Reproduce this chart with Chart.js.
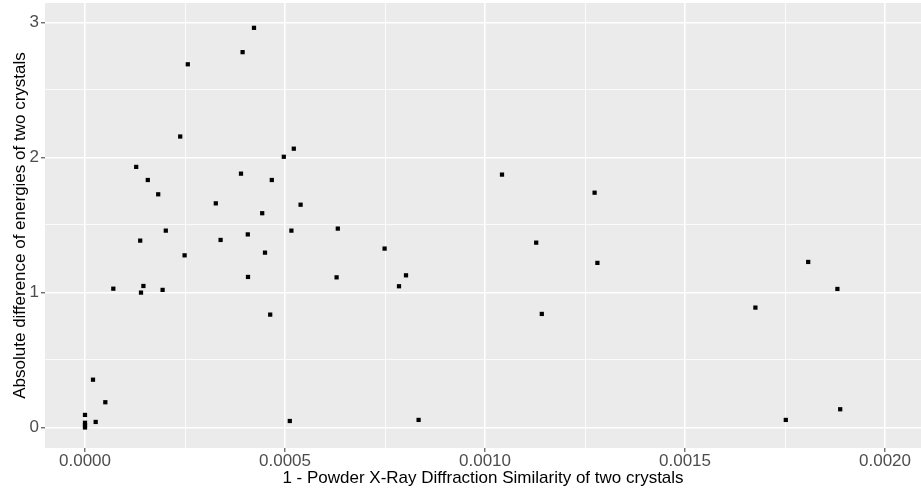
<!DOCTYPE html>
<html lang="en">
<head>
  <meta charset="UTF-8">
  <title>PXRD similarity vs energy difference</title>
  <style>
    body {
      margin: 0;
      padding: 0;
      background: white;
    }

    .chart-box {
      width: 921px;
      height: 494px;
    }
  </style>
</head>
<body>
  <div class="chart-box">
    <canvas id="scatterChart"></canvas>
  </div>

  <script src="https://cdn.jsdelivr.net/npm/chart.js"></script>
  <script>
    // 1 - PXRD similarity (x) and absolute energy difference (y)
    const xValues = [
      0.0004225, 0.000394, 0.000257, 0.000238, 0.000522, 0.000497, 0.000128, 0.00039,
      0.000157, 0.000467, 0.000183, 0.000327, 0.000539, 0.000443, 0.000202, 0.000516,
      0.000407, 0.000138, 0.000339, 0.000249, 0.00045, 0.0004075, 0.0000708, 0.000146,
      0.00014, 0.000194, 0.000463, 0.00002, 0.0000508, 0, 0.0000267, 0,
      0, 0, 0.000512, 0.0010425, 0.001274, 0.000632, 0.001128, 0.000749,
      0.001281, 0.000629, 0.0008025, 0.000785, 0.001142, 0.000834, 0.001808, 0.001881,
      0.001676, 0.001888, 0.001752
    ];
    const yValues = [
      2.96, 2.78, 2.69, 2.155, 2.065, 2.005, 1.93, 1.88,
      1.833, 1.833, 1.727, 1.66, 1.65, 1.587, 1.458, 1.458,
      1.43, 1.384, 1.389, 1.275, 1.295, 1.115, 1.028, 1.048,
      0.999, 1.019, 0.836, 0.354, 0.187, 0.093, 0.041, 0.035,
      0.015, 0, 0.048, 1.873, 1.739, 1.473, 1.369, 1.325,
      1.219, 1.112, 1.127, 1.046, 0.841, 0.056, 1.226, 1.026,
      0.888, 0.135, 0.056
    ];

    // axis breaks (major get labels, minor only grid)
    const xMajor = [0, 0.0005, 0.001, 0.0015, 0.002];
    const xMinor = [0.00025, 0.00075, 0.00125, 0.00175];
    const yMajor = [0, 1, 2, 3];
    const yMinor = [0.5, 1.5, 2.5];

    const points = xValues.map((x, i) => ({ x: x, y: yValues[i] }));

    const isMajor = (list, v) => list.some(m => Math.abs(m - v) < 1e-9);

    // grey panel like ggplot
    const panelBg = {
      id: 'panelBg',
      beforeDraw(chart) {
        const a = chart.chartArea;
        chart.ctx.save();
        chart.ctx.fillStyle = '#EBEBEB';
        chart.ctx.fillRect(a.left, a.top, a.right - a.left, a.bottom - a.top);
        chart.ctx.restore();
      }
    };

    const tickFont = { family: 'Liberation Sans, Arial, sans-serif', size: 17 };
    const titleFont = { family: 'Liberation Sans, Arial, sans-serif', size: 17 };

    new Chart(document.getElementById('scatterChart'), {
      type: 'scatter',
      data: {
        datasets: [{
          data: points,
          pointStyle: 'rect',
          pointRadius: 3,
          pointBorderWidth: 0,
          backgroundColor: '#000000',
          borderColor: '#000000'
        }]
      },
      options: {
        responsive: true,
        maintainAspectRatio: false,
        animation: false,
        events: [],
        layout: { autoPadding: false, padding: { top: 3, right: 0, bottom: 0, left: 0 } },
        plugins: {
          legend: { display: false },
          tooltip: { enabled: false }
        },
        scales: {
          x: {
            type: 'linear',
            min: -0.0001,
            max: 0.00209,
            afterBuildTicks: s => { s.ticks = xMajor.concat(xMinor).sort((a, b) => a - b).map(v => ({ value: v })); },
            afterFit: s => { s.height = 46; s.paddingLeft = 0; s.paddingRight = 0; },
            border: { display: false },
            grid: {
              color: '#FFFFFF',
              lineWidth: c => isMajor(xMajor, c.tick.value) ? 1.6 : 0.8,
              tickColor: c => isMajor(xMajor, c.tick.value) ? '#333333' : 'rgba(0,0,0,0)',
              tickLength: 4,
              tickWidth: 1
            },
            ticks: {
              color: '#4D4D4D',
              font: tickFont,
              padding: -1,
              maxRotation: 0,
              autoSkip: false,
              callback: v => isMajor(xMajor, v) ? v.toFixed(4) : ''
            },
            title: {
              display: true,
              text: '1 - Powder X-Ray Diffraction Similarity of two crystals',
              color: '#000000',
              font: titleFont,
              padding: { top: 0, bottom: 5 }
            }
          },
          y: {
            type: 'linear',
            min: -0.152,
            max: 3.144,
            afterBuildTicks: s => { s.ticks = yMajor.concat(yMinor).sort((a, b) => a - b).map(v => ({ value: v })); },
            afterFit: s => { s.width = 45; s.paddingTop = 0; s.paddingBottom = 0; },
            border: { display: false },
            grid: {
              color: '#FFFFFF',
              lineWidth: c => isMajor(yMajor, c.tick.value) ? 1.6 : 0.8,
              tickColor: c => isMajor(yMajor, c.tick.value) ? '#333333' : 'rgba(0,0,0,0)',
              tickLength: 4,
              tickWidth: 1
            },
            ticks: {
              color: '#4D4D4D',
              font: tickFont,
              padding: 2,
              autoSkip: false,
              callback: v => isMajor(yMajor, v) ? String(v) : ''
            },
            title: {
              display: true,
              text: 'Absolute difference of energies of two crystals',
              color: '#000000',
              font: titleFont,
              padding: { top: 10, bottom: 0 }
            }
          }
        }
      },
      plugins: [panelBg]
    });
  </script>
</body>
</html>
